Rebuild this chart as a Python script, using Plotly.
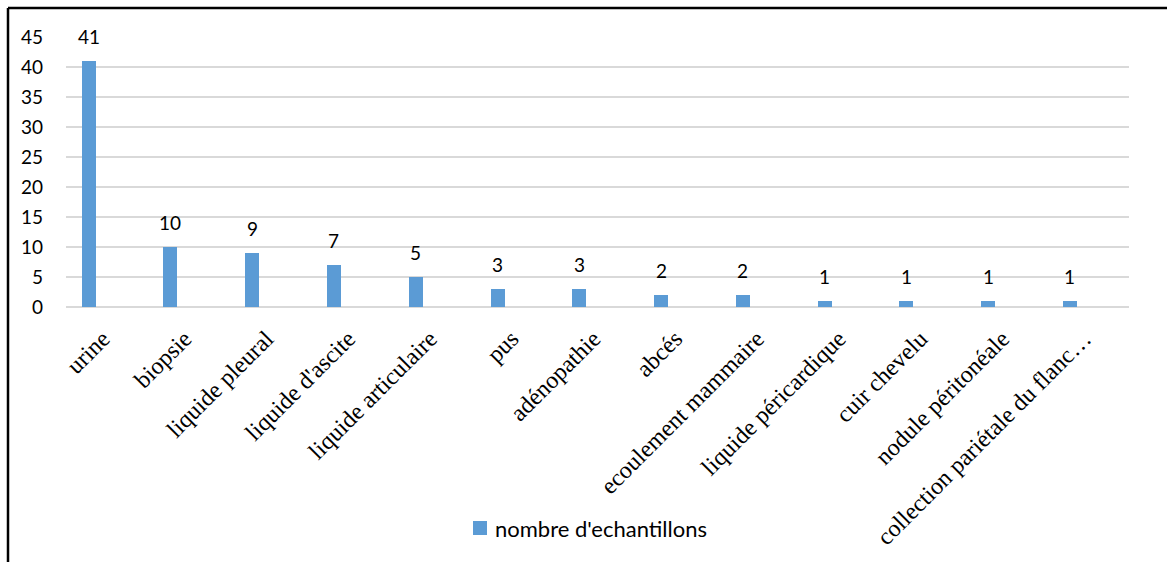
import numpy as np
import plotly.graph_objects as go

# Sample types and counts
categories = [
    "urine", "biopsie", "liquide pleural", "liquide d'ascite",
    "liquide articulaire", "pus", "adénopathie", "abcés",
    "ecoulement mammaire", "liquide péricardique", "cuir chevelu",
    "nodule péritonéale", "collection pariétale du flanc…",
]
counts = [41, 10, 9, 7, 5, 3, 3, 2, 2, 1, 1, 1, 1]
series_name = "nombre d'echantillons"
y_ticks = [0, 5, 10, 15, 20, 25, 30, 35, 40, 45]

W, H = 1167, 562
L, R, T, B = 66, 38, 37, 255
plot_w = W - L - R
plot_h = H - T - B

bar_color = "#5B9BD5"
bar_width = 0.171
bar_center = -0.2226  # bar sits left of the category centre
sans = "Lato, 'Open Sans', sans-serif"
serif = "'Liberation Serif', 'DejaVu Serif', serif"

idx = np.arange(len(categories))

fig = go.Figure()
fig.add_trace(go.Bar(
    x=idx, y=counts, name=series_name,
    width=bar_width, offset=bar_center - bar_width / 2,
    marker=dict(color=bar_color, line=dict(width=0)),
    showlegend=False,
))

# value labels above each bar
for i, v in zip(idx, counts):
    fig.add_annotation(
        x=i + bar_center, y=v, xref="x", yref="y", yshift=25,
        text=str(v), showarrow=False, xanchor="center", yanchor="middle",
        font=dict(family=sans, size=19, color="#000000"),
    )

# legend: swatch + series name below the axis labels
leg_y = -(528 - T - plot_h) / plot_h
sw = 14
fig.add_shape(type="rect", xref="paper", yref="paper",
              x0=(473 - L) / plot_w, x1=(473 + sw - L) / plot_w,
              y0=leg_y - sw / 2 / plot_h, y1=leg_y + sw / 2 / plot_h,
              fillcolor=bar_color, line=dict(width=0))
fig.add_annotation(x=(493 - L) / plot_w, y=leg_y, xref="paper", yref="paper",
                   text=series_name, showarrow=False,
                   xanchor="left", yanchor="middle",
                   font=dict(family=sans, size=22, color="#000000"))

fig.update_layout(
    width=W, height=H,
    margin=dict(l=L, r=R, t=T, b=B, pad=0, autoexpand=False),
    paper_bgcolor="white", plot_bgcolor="white",
    bargap=0, showlegend=False,
    xaxis=dict(
        range=[-0.5, len(categories) - 0.5],
        tickvals=idx, ticktext=categories, tickangle=-45,
        tickfont=dict(family=serif, size=24, color="#000000"),
        showgrid=False, zeroline=False, showline=False,
        ticks="", ticklabelstandoff=12, ticklabelshift=-4,
        automargin=False,
    ),
    yaxis=dict(
        range=[0, 45], tickvals=y_ticks,
        tickfont=dict(family=sans, size=19, color="#000000"),
        showgrid=True, gridcolor="#D9D9D9", gridwidth=1.5,
        zeroline=True, zerolinecolor="#D9D9D9", zerolinewidth=1.5,
        showline=False, ticks="", ticklabelstandoff=22, automargin=False,
    ),
)

# outer frame: top and left edges
top_y = 1 + (T - 8) / plot_h
left_x = (8 - L) / plot_w
fig.add_shape(type="line", xref="paper", yref="paper",
              x0=left_x, x1=1 + (R + 5) / plot_w, y0=top_y, y1=top_y,
              line=dict(color="#000000", width=2.5))
fig.add_shape(type="line", xref="paper", yref="paper",
              x0=left_x, x1=left_x, y0=top_y, y1=-(B + 5) / plot_h,
              line=dict(color="#000000", width=2.5))

fig.write_html("out.html")
